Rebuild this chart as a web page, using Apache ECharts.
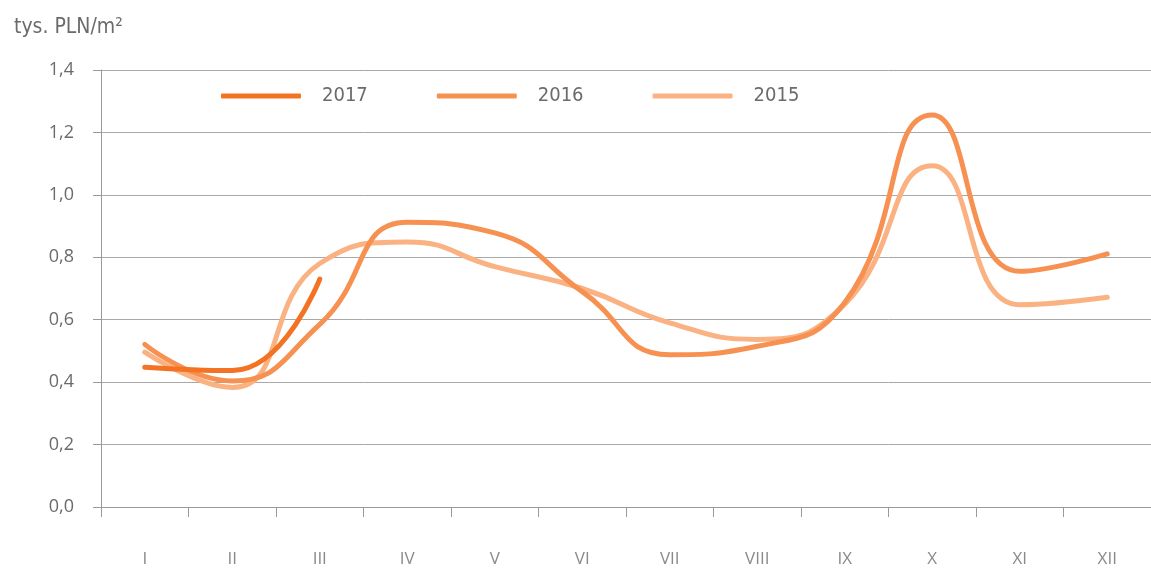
<!DOCTYPE html>
<html>
<head>
<meta charset="utf-8">
<script src="https://cdn.jsdelivr.net/npm/echarts@6/dist/echarts.min.js"></script>
<style>
  html, body { margin: 0; padding: 0; background: #fff; }
  #chart { width: 1151px; height: 568px; }
</style>
</head>
<body>
<div id="chart"></div>
<script>
  // miesiace
  const months = ['I', 'II', 'III', 'IV', 'V', 'VI', 'VII', 'VIII', 'IX', 'X', 'XI', 'XII']
  // ceny, tys. PLN/m2
  const values2017 = [0.448, 0.437, 0.73]
  const values2016 = [0.521, 0.404, 0.585, 0.912, 0.878, 0.69, 0.488, 0.515, 0.655, 1.256, 0.755, 0.811]
  const values2015 = [0.496, 0.383, 0.78, 0.849, 0.77, 0.70, 0.59, 0.537, 0.65, 1.093, 0.648, 0.672]

  const fontFamily = '"Open Sans", "Noto Sans", sans-serif'
  const narrowFont = '"DejaVu Sans Condensed", sans-serif'
  const textColor = '#6b6b6b'
  const axisColor = '#9a9a9a'

  let chart = echarts.init(document.getElementById('chart'))
  let lineSeries = function(name, data, color, z) {
    return {
      name: name,
      type: 'line',
      data: data,
      smooth: 0.5,
      symbol: 'none',
      z: z,
      lineStyle: {color: color, width: 5, cap: 'round'},
      itemStyle: {color: color}
    }
  }
  let option = {
    animation: false,
    title: {
      text: 'tys. PLN/m²',
      left: 9,
      top: 12,
      textStyle: {
        color: textColor,
        fontFamily: narrowFont,
        fontWeight: 'normal',
        fontSize: 21
      }
    },
    legend: {
      data: ['2017', '2016', '2015'],
      left: 216,
      top: 81,
      itemWidth: 80,
      itemHeight: 5,
      itemGap: 69,
      icon: 'roundRect',
      textStyle: {
        color: textColor,
        fontFamily: narrowFont,
        fontSize: 20,
        padding: [0, 0, 0, 16]
      }
    },
    grid: {
      left: 101,
      top: 70,
      right: -7,
      bottom: 60
    },
    xAxis: {
      type: 'category',
      data: months,
      boundaryGap: true,
      axisLine: {lineStyle: {color: axisColor, width: 1}},
      axisTick: {show: true, length: 10, lineStyle: {color: axisColor}},
      axisLabel: {
        margin: 44,
        color: '#8a8a8a',
        fontFamily: fontFamily,
        fontSize: 17
      },
      splitLine: {show: false}
    },
    yAxis: {
      type: 'value',
      min: 0,
      max: 1.4,
      interval: 0.2,
      axisLine: {show: true, lineStyle: {color: axisColor, width: 1}},
      axisTick: {show: true, length: 8, lineStyle: {color: axisColor}},
      axisLabel: {
        margin: 27,
        color: textColor,
        fontFamily: fontFamily,
        fontSize: 18,
        formatter: function(v) {
          return v.toFixed(1).replace('.', ',')
        }
      },
      splitLine: {lineStyle: {color: '#a8a8a8', width: 1}}
    },
    series: [
      lineSeries('2015', values2015, '#FAB283', 2),
      lineSeries('2016', values2016, '#F69152', 3),
      lineSeries('2017', values2017, '#F47224', 4)
    ]
  }
  chart.setOption(option)
</script>
</body>
</html>
